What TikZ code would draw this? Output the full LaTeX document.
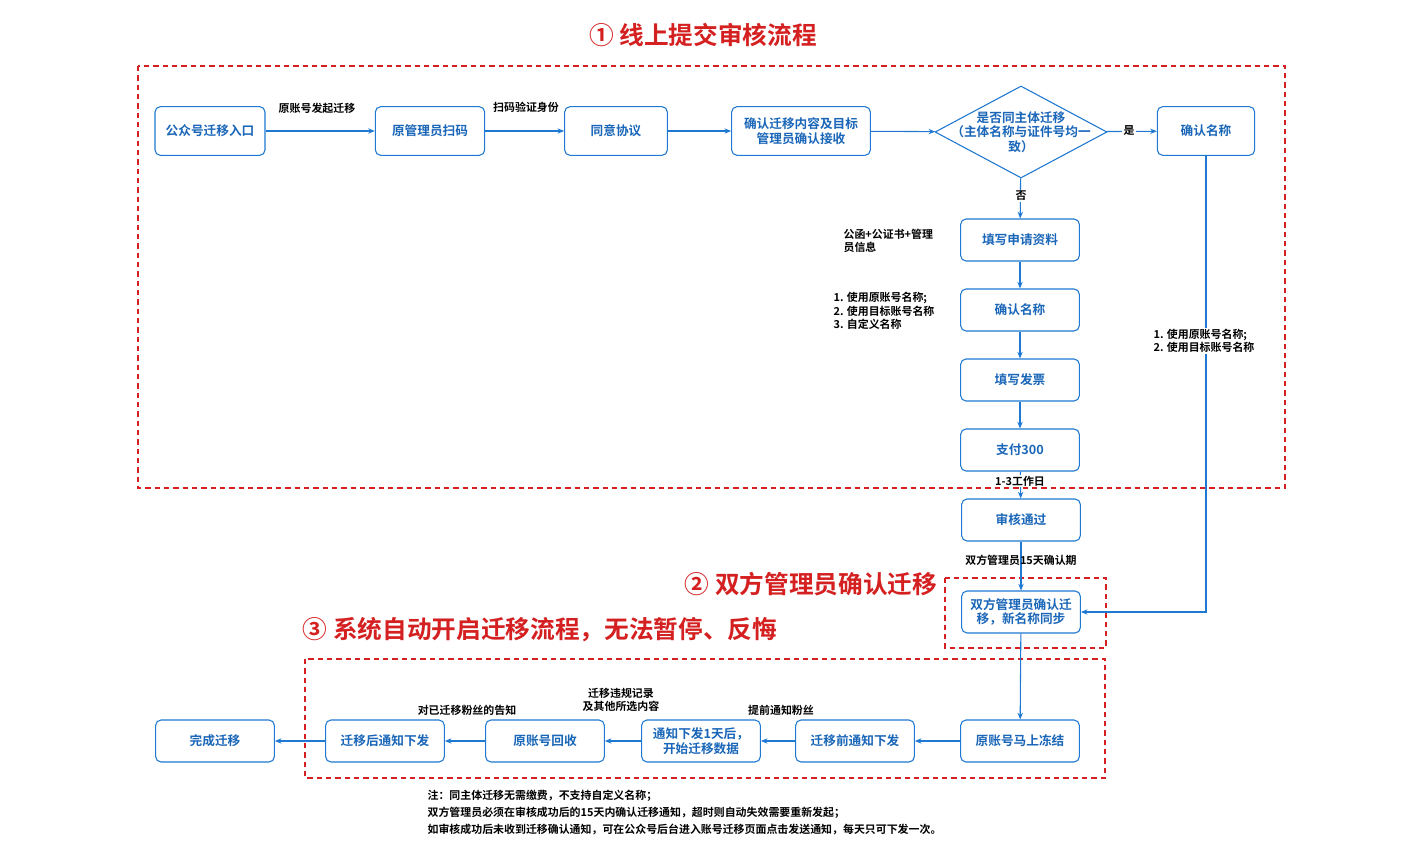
\documentclass[tikz,border=0pt]{standalone}
\usepackage{fontspec}
\setmainfont{Noto Sans CJK SC}[BoldFont={Noto Sans CJK SC Bold}]
\usetikzlibrary{shapes.geometric,arrows.meta}
\definecolor{bl}{HTML}{1F78D1}
\definecolor{bt}{HTML}{1A66B8}
\definecolor{rd}{HTML}{D42020}
\begin{document}
\begin{tikzpicture}[x=0.75pt,y=-0.75pt,
 box/.style={draw=bl,fill=white,rounded corners=4pt,line width=0.8pt,text=bt,font=\fontsize{9.5}{11}\selectfont\bfseries,align=center,minimum height=36.5pt,inner sep=1pt},
 sbox/.style={box,minimum width=89pt,minimum height=31.5pt},
 ar/.style={draw=bl,line width=0.8pt,-{Stealth[length=5pt,width=4pt]}},
 lb/.style={font=\fontsize{8.2}{10}\selectfont\bfseries,text=black,align=left,inner sep=1pt},
 dsh/.style={draw=rd,dashed,line width=1.1pt,dash pattern=on 4pt off 3pt},
 ttl/.style={text=rd,font=\fontsize{18.5}{22}\selectfont\bfseries}]
\useasboundingbox (0,0) rectangle (1420,852);
\draw[dsh] (138,66) rectangle (1285,488);
\draw[dsh] (945,578) rectangle (1106,648);
\draw[dsh] (305,659) rectangle (1105,778);
\node[ttl] (t1) at (703,35) {① 线上提交审核流程};
\node[ttl] (t2) at (811,584) {② 双方管理员确认迁移};
\node[ttl] (t3) at (540,630) {③ 系统自动开启迁移流程，无法暂停、反悔};
\node[box,minimum width=82.5pt] (n1) at (210,131) {公众号迁移入口};
\node[box,minimum width=82pt] (n2) at (430,131) {原管理员扫码};
\node[box,minimum width=77pt] (n3) at (616,131) {同意协议};
\node[box,minimum width=104pt] (n4) at (801,131) {确认迁移内容及目标\\管理员确认接收};
\node[diamond,draw=bl,fill=white,line width=0.8pt,aspect=1.87,minimum width=129pt,minimum height=69pt,inner sep=-9pt,text=bt,font=\fontsize{9.5}{11}\selectfont\bfseries,align=center] (d) at (1021,132) {是否同主体迁移\\（主体名称与证件号均一\\致）};
\node[box,minimum width=73pt] (n5) at (1206,131) {确认名称};
\node[sbox] (n6) at (1020,240) {填写申请资料};
\node[sbox] (n7) at (1020,310) {确认名称};
\node[sbox] (n8) at (1020,380) {填写发票};
\node[sbox] (n9) at (1020,450) {支付300};
\node[sbox] (n10) at (1021,520) {审核通过};
\node[sbox] (n11) at (1021,612) {双方管理员确认迁\\移，新名称同步};
\node[sbox] (n12) at (1020,741) {原账号马上冻结};
\node[sbox] (n13) at (855,741) {迁移前通知下发};
\node[sbox] (n14) at (701,741) {通知下发1天后，\\开始迁移数据};
\node[sbox] (n15) at (545,741) {原账号回收};
\node[sbox] (n16) at (385,741) {迁移后通知下发};
\node[sbox] (n17) at (215,741) {完成迁移};
\draw[ar] (n1) -- (n2);
\draw[ar] (n2) -- (n3);
\draw[ar] (n3) -- (n4);
\draw[ar] (n4) -- (d);
\draw[ar] (d) -- (n5);
\draw[ar] (d) -- (n6);
\draw[ar] (n6) -- (n7);
\draw[ar] (n7) -- (n8);
\draw[ar] (n8) -- (n9);
\draw[ar] (n9) -- (n10);
\draw[ar] (n10) -- (n11);
\draw[ar] (n5.south) |- (n11.east);
\draw[ar] (n11) -- (n12);
\draw[ar] (n12) -- (n13);
\draw[ar] (n13) -- (n14);
\draw[ar] (n14) -- (n15);
\draw[ar] (n15) -- (n16);
\draw[ar] (n16) -- (n17);
\node[lb] (l1) at (317,108) {原账号发起迁移};
\node[lb] (l2) at (526,107) {扫码验证身份};
\node[lb,fill=white] (l3) at (1129,131) {是};
\node[lb,fill=white] (l4) at (1021,196) {否};
\node[lb,anchor=west] (l5) at (842,241) {公函+公证书+管理\\员信息};
\node[lb,anchor=west] (l6) at (832,311) {1. 使用原账号名称;\\2. 使用目标账号名称\\3. 自定义名称};
\node[lb,anchor=west,fill=white] (l7) at (1152,341) {1. 使用原账号名称;\\2. 使用目标账号名称};
\node[lb,fill=white] (l8) at (1020,481) {1-3工作日};
\node[lb] (l9) at (1021,560) {双方管理员15天确认期};
\node[lb] (l10) at (467,710) {对已迁移粉丝的告知};
\node[lb,align=center] (l11) at (621,700) {迁移违规记录\\及其他所选内容};
\node[lb] (l12) at (781,710) {提前通知粉丝};
\node[lb,anchor=north west,font=\fontsize{8.2}{12.8}\selectfont\bfseries] (l13) at (426,788) {注：同主体迁移无需缴费，不支持自定义名称；\\双方管理员必须在审核成功后的15天内确认迁移通知，超时则自动失效需要重新发起；\\如审核成功后未收到迁移确认通知，可在公众号后台进入账号迁移页面点击发送通知，每天只可下发一次。};
\end{tikzpicture}
\end{document}
